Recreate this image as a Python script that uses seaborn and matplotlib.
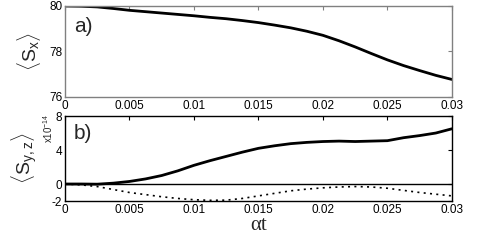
import numpy as np
import pandas as pd
import matplotlib
matplotlib.use("Agg")
import matplotlib.pyplot as plt
import seaborn as sns

t = [0, 0.00125, 0.0025, 0.00375, 0.005, 0.00625, 0.0075, 0.00875, 0.01, 0.01125,
     0.0125, 0.01375, 0.015, 0.01625, 0.0175, 0.01875, 0.02, 0.02125, 0.0225, 0.02375,
     0.025, 0.02625, 0.0275, 0.02875, 0.03]
sx = [80.00, 79.99, 79.96, 79.89, 79.81, 79.75, 79.69, 79.63, 79.57, 79.50,
      79.44, 79.36, 79.27, 79.16, 79.04, 78.89, 78.71, 78.47, 78.20, 77.91,
      77.63, 77.38, 77.16, 76.95, 76.77]
sy = [0, 0, -0.02, 0.1, 0.3, 0.6, 1.0, 1.55, 2.2, 2.75,
      3.25, 3.75, 4.2, 4.5, 4.75, 4.9, 5.0, 5.05, 5.0, 5.05,
      5.1, 5.45, 5.7, 6.0, 6.5]
sz = [0, -0.1, -0.3, -0.65, -1.0, -1.25, -1.5, -1.7, -1.85, -1.92,
      -1.9, -1.7, -1.4, -1.1, -0.8, -0.6, -0.45, -0.35, -0.3, -0.35,
      -0.5, -0.75, -1.0, -1.2, -1.4]
xticks = [0, 0.005, 0.01, 0.015, 0.02, 0.025, 0.03]
xticklabels = ["0", "0.005", "0.01", "0.015", "0.02", "0.025", "0.03"]
yticks_a = [76, 78, 80]
yticks_b = [-2, 0, 4, 8]

sns.set_style("white")
plt.rcParams["font.family"] = ["Liberation Sans", "DejaVu Sans"]
plt.rcParams["mathtext.fontset"] = "custom"
plt.rcParams["mathtext.rm"] = "Liberation Sans"
plt.rcParams["mathtext.it"] = "Liberation Sans"
plt.rcParams["mathtext.sf"] = "Liberation Sans"
plt.rcParams["axes.unicode_minus"] = False

fig = plt.figure(figsize=(4.98, 2.40), dpi=100)
ax1 = fig.add_axes([0.1305, 0.596, 0.777, 0.379])
ax2 = fig.add_axes([0.1305, 0.1625, 0.777, 0.354])

df = pd.DataFrame({"t": t, "sx": sx, "sy": sy, "sz": sz})

sns.lineplot(data=df, x="t", y="sx", ax=ax1, color="black", lw=2.0)
sns.lineplot(data=df, x="t", y="sy", ax=ax2, color="black", lw=2.0)
sns.lineplot(data=df, x="t", y="sz", ax=ax2, color="black", lw=1.2, linestyle=(0, (1.2, 2.6)))
ax2.axhline(0, color="black", lw=1.0, zorder=0)

grey = "#808080"
for ax, yt, ylim, sc in [(ax1, yticks_a, (76, 80), grey), (ax2, yticks_b, (-2, 8), "black")]:
    ax.set_xlim(0, 0.03)
    ax.set_ylim(*ylim)
    ax.set_xticks(xticks)
    ax.set_xticklabels(xticklabels)
    ax.set_yticks(yt)
    ax.set_yticklabels([str(v) for v in yt])
    ax.tick_params(direction="in", length=3, width=0.8, colors=sc, labelcolor="black",
                   labelsize=8.5, top=True, right=True, pad=2)
    for s in ax.spines.values():
        s.set_color(sc)
        s.set_linewidth(1.0)
    ax.set_xlabel("")
    ax.set_ylabel("")

ax1.text(0.023, 0.77, "a)", transform=ax1.transAxes, fontsize=15, va="center", ha="left")
ax2.text(0.023, 0.79, "b)", transform=ax2.transAxes, fontsize=15, va="center", ha="left")

ax1.set_ylabel(r"$\langle \mathrm{S_x} \rangle$", fontsize=14, labelpad=4)
ax2.set_ylabel(r"$\langle \mathrm{S_{y,z}} \rangle$", fontsize=14, labelpad=9)
ax2.text(-0.043, 1.03, r"x10$^{-14}$", transform=ax2.transAxes, rotation=90,
         fontsize=7, ha="center", va="top")
ax2.set_xlabel("αt", fontsize=15, family=["Liberation Serif", "DejaVu Serif"], labelpad=0)

fig.savefig("out.png", dpi=100)
